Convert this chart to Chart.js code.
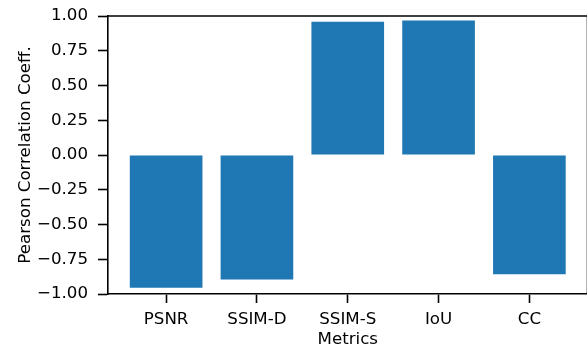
<!DOCTYPE html>
<html>
<head>
<meta charset="utf-8">
<script src="https://cdn.jsdelivr.net/npm/chart.js@4.4.1/dist/chart.umd.min.js"></script>
<style>
  html, body { margin: 0; padding: 0; background: #fff; overflow: hidden; }
  #wrap { width: 600px; height: 350px; }
</style>
</head>
<body>
<div id="wrap"><canvas id="chartCorr" width="600" height="350"></canvas></div>
<script>
  // metrics and their Pearson correlation coefficients
  var metrics = ["PSNR", "SSIM-D", "SSIM-S", "IoU", "CC"];
  var coeffs = [-0.955, -0.895, 0.958, 0.968, -0.858];
  var yTicks = [-1, -0.75, -0.5, -0.25, 0, 0.25, 0.5, 0.75, 1];

  var fontFamily = "'DejaVu Sans', sans-serif";
  var fontSize = 16.67;

  function fmt(v) {
    var s = Math.abs(v).toFixed(2);
    return v < 0 ? "\u2212" + s : s;
  }

  // matplotlib-like top and right spines
  var boxSpines = {
    id: "boxSpines",
    afterDraw: function (chart) {
      var a = chart.chartArea;
      var ctx = chart.ctx;
      ctx.save();
      ctx.strokeStyle = "#000";
      ctx.lineWidth = 1.6;
      ctx.beginPath();
      ctx.moveTo(a.left - 0.8, a.top);
      ctx.lineTo(a.right, a.top);
      ctx.lineTo(a.right, a.bottom);
      ctx.stroke();
      ctx.restore();
    }
  };

  new Chart(document.getElementById("chartCorr"), {
    type: "bar",
    data: {
      datasets: [
        {
          data: metrics.map(function (m, i) { return { x: i, y: coeffs[i] }; }),
          backgroundColor: "#1f77b4",
          borderWidth: 0,
          barPercentage: 1,
          categoryPercentage: 0.8
        }
      ]
    },
    options: {
      responsive: false,
      animation: false,
      layout: { padding: { top: 16, right: 12.5, left: 0, bottom: 0 } },
      plugins: {
        legend: { display: false },
        tooltip: { enabled: false }
      },
      scales: {
        x: {
          type: "linear",
          offset: false,
          min: -0.64,
          max: 4.64,
          afterBuildTicks: function (scale) {
            scale.ticks = metrics.map(function (m, i) { return { value: i }; });
          },
          afterFit: function (scale) {
            scale.height = 56;
            scale.paddingLeft = 0;
            scale.paddingRight = 0;
          },
          ticks: {
            callback: function (v) { return metrics[v]; },
            color: "#000",
            font: { family: fontFamily, size: fontSize },
            padding: 7,
            maxRotation: 0,
            autoSkip: false
          },
          grid: {
            offset: false,
            drawOnChartArea: false,
            drawTicks: true,
            tickLength: 9,
            tickColor: "#000",
            tickWidth: 1.6
          },
          border: { display: true, color: "#000", width: 1.6 },
          title: {
            display: true,
            text: "Metrics",
            color: "#000",
            font: { family: fontFamily, size: fontSize },
            padding: { top: -3, bottom: 0 }
          }
        },
        y: {
          min: -1,
          max: 1,
          afterBuildTicks: function (scale) {
            scale.ticks = yTicks.map(function (v) { return { value: v }; });
          },
          afterFit: function (scale) {
            scale.width = 108;
            scale.paddingTop = 0;
            scale.paddingBottom = 0;
          },
          ticks: {
            callback: function (v) { return fmt(v); },
            color: "#000",
            font: { family: fontFamily, size: fontSize },
            padding: 10
          },
          grid: {
            drawOnChartArea: false,
            drawTicks: true,
            tickLength: 10,
            tickColor: "#000",
            tickWidth: 1.6
          },
          border: { display: true, color: "#000", width: 1.6 },
          title: {
            display: true,
            text: "Pearson Correlation Coeff.",
            color: "#000",
            font: { family: fontFamily, size: fontSize },
            padding: { top: 16, bottom: 0 }
          }
        }
      }
    },
    plugins: [boxSpines]
  });
</script>
</body>
</html>
